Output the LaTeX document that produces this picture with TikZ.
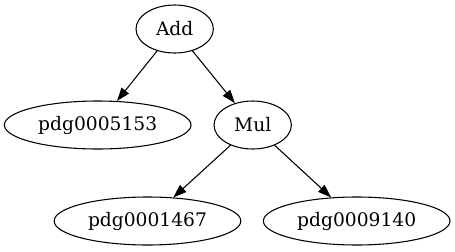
\documentclass[tikz,border=0pt]{standalone}
\usepackage{fontspec}
\setmainfont{DejaVu Serif}
\usepackage{tikz}
\usetikzlibrary{arrows.meta, shapes.geometric}
\tikzset{
  opnode/.style={ellipse, draw=black, line width=0.8pt, inner sep=0pt,
    minimum width=58pt, minimum height=36pt, font=\fontsize{14}{16}\selectfont},
  leafnode/.style={opnode, minimum width=140pt},
  treearrow/.style={draw=black, line width=0.8pt, -{Triangle[length=10pt, width=7pt]}}
}

\begin{document}
\begin{tikzpicture}[x=0.75pt, y=-0.75pt]
    \useasboundingbox (0,0) rectangle (455,251);
    % operators
    \node[opnode] (add) at (174.7,29) {Add};
    \node[opnode] (mul) at (252.7,125) {Mul};
    % operands
    \node[leafnode] (pdg5153) at (97.7,125) {pdg0005153};
    \node[leafnode] (pdg1467) at (147.5,221) {pdg0001467};
    \node[leafnode] (pdg9140) at (356.7,221) {pdg0009140};

    \draw[treearrow] (add) -- (pdg5153);
    \draw[treearrow] (add) -- (mul);
    \draw[treearrow] (mul) -- (pdg1467);
    \draw[treearrow] (mul) -- (pdg9140);
  \end{tikzpicture}
\end{document}
